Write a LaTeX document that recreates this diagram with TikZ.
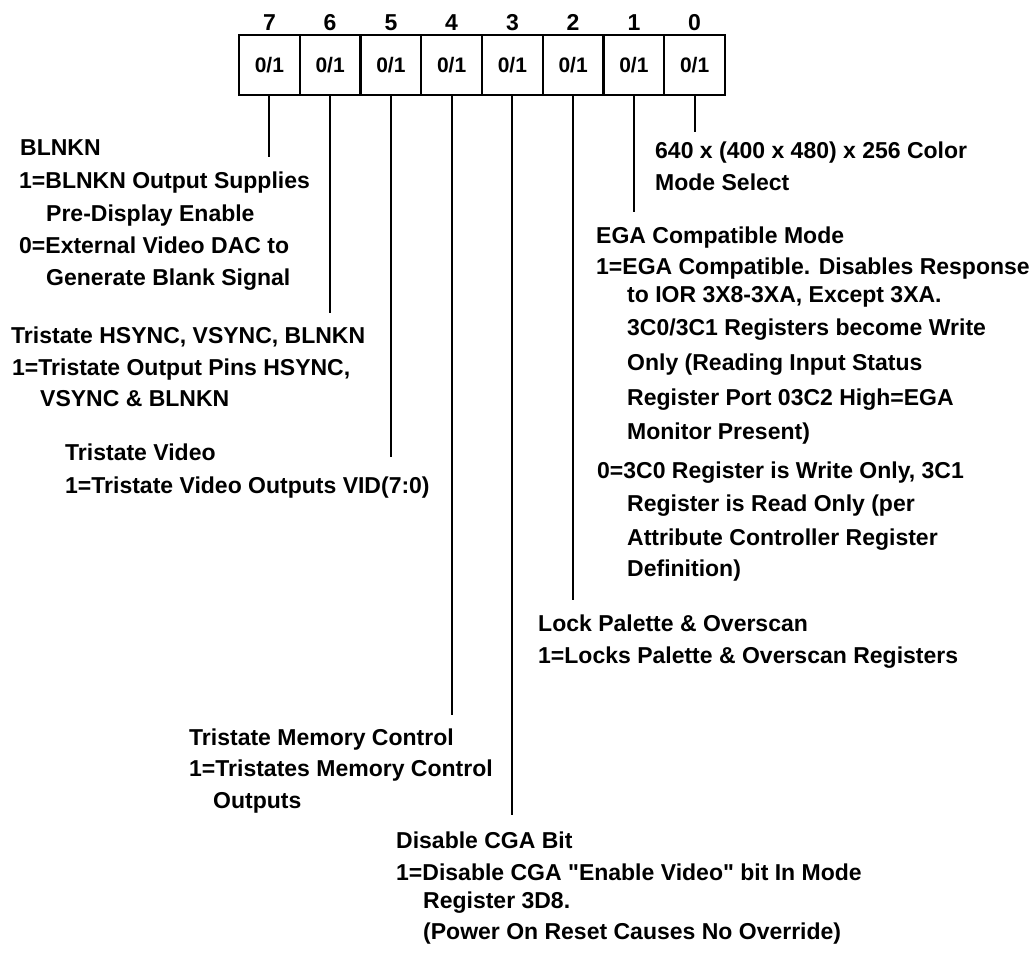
\documentclass[tikz,border=0pt]{standalone}
\usepackage{fontspec}
\setmainfont{Liberation Sans}[Ligatures=TeXOff]
\begin{document}
\begin{tikzpicture}[x=1pt,y=-1pt,
  cell/.style={draw,line width=2.2pt,minimum width=60.75pt,minimum height=60pt,inner sep=0pt,font=\fontsize{21}{24}\selectfont\bfseries},
  lbl/.style={inner sep=0pt,text height=16.2pt,text depth=0pt,font=\fontsize{23}{24}\selectfont\bfseries},
  txt/.style={anchor=west,inner sep=0pt,text height=16.5pt,text depth=0pt,font=\fontsize{23}{28}\selectfont\bfseries},
  conn/.style={line width=2pt}]
\useasboundingbox (0,0) rectangle (1036,954);
% register cells
\foreach \b/\x in {7/269.4,6/330.1,5/390.9,4/451.6,3/512.4,2/573.1,1/633.9,0/694.6}{
  \node[cell] (c\b) at (\x,65) {0/1};
  \node[lbl] (l\b) at (\x,22) {\b};
}
% connector ends
\coordinate (e7) at (269.4,157);
\coordinate (e6) at (330.1,313);
\coordinate (e5) at (390.9,457);
\coordinate (e4) at (451.6,715);
\coordinate (e3) at (512.4,815);
\coordinate (e2) at (573.1,600);
\coordinate (e1) at (633.9,212);
\coordinate (e0) at (694.6,132);
\foreach \b in {7,6,5,4,3,2,1,0}{ \draw[conn] (c\b.south) -- (e\b); }
% bit 7
\node[txt] (t7a) at (20,147) {BLNKN};
\node[txt] (t7b) at (19,180) {1=BLNKN Output Supplies};
\node[txt] (t7c) at (46,213) {Pre-Display Enable};
\node[txt] (t7d) at (19,245) {0=External Video DAC to};
\node[txt] (t7e) at (46,277) {Generate Blank Signal};
% bit 6
\node[txt] (t6a) at (11,335) {Tristate HSYNC, VSYNC, BLNKN};
\node[txt] (t6b) at (12,367) {1=Tristate Output Pins HSYNC,};
\node[txt] (t6c) at (40,398) {VSYNC \& BLNKN};
% bit 5
\node[txt] (t5a) at (65,452) {Tristate Video};
\node[txt] (t5b) at (65,485) {1=Tristate Video Outputs VID(7:0)};
% bit 4
\node[txt] (t4a) at (189,737) {Tristate Memory Control};
\node[txt] (t4b) at (189,768) {1=Tristates Memory Control};
\node[txt] (t4c) at (213,800) {Outputs};
% bit 3
\node[txt] (t3a) at (396,840) {Disable CGA Bit};
\node[txt] (t3b) at (396,872) {1=Disable CGA "Enable Video" bit In Mode};
\node[txt] (t3c) at (423,900) {Register 3D8.};
\node[txt] (t3d) at (423,931) {(Power On Reset Causes No Override)};
% bit 2
\node[txt] (t2a) at (538,623) {Lock Palette \& Overscan};
\node[txt] (t2b) at (538,655) {1=Locks Palette \& Overscan Registers};
% bit 1
\node[txt] (t1a) at (596,235) {EGA Compatible Mode};
\node[txt] (t1b) at (596,266) {1=EGA Compatible. Disables Response};
\node[txt] (t1c) at (627,294) {to IOR 3X8-3XA, Except 3XA.};
\node[txt] (t1d) at (627,327) {3C0/3C1 Registers become Write};
\node[txt] (t1e) at (627,362) {Only (Reading Input Status};
\node[txt] (t1f) at (627,397) {Register Port 03C2 High=EGA};
\node[txt] (t1g) at (627,431) {Monitor Present)};
\node[txt] (t1h) at (597,470) {0=3C0 Register is Write Only, 3C1};
\node[txt] (t1i) at (627,503) {Register is Read Only (per};
\node[txt] (t1j) at (627,537) {Attribute Controller Register};
\node[txt] (t1k) at (627,568) {Definition)};
% bit 0
\node[txt] (t0a) at (655,150) {640 x (400 x 480) x 256 Color};
\node[txt] (t0b) at (655,182) {Mode Select};
\end{tikzpicture}
\end{document}
